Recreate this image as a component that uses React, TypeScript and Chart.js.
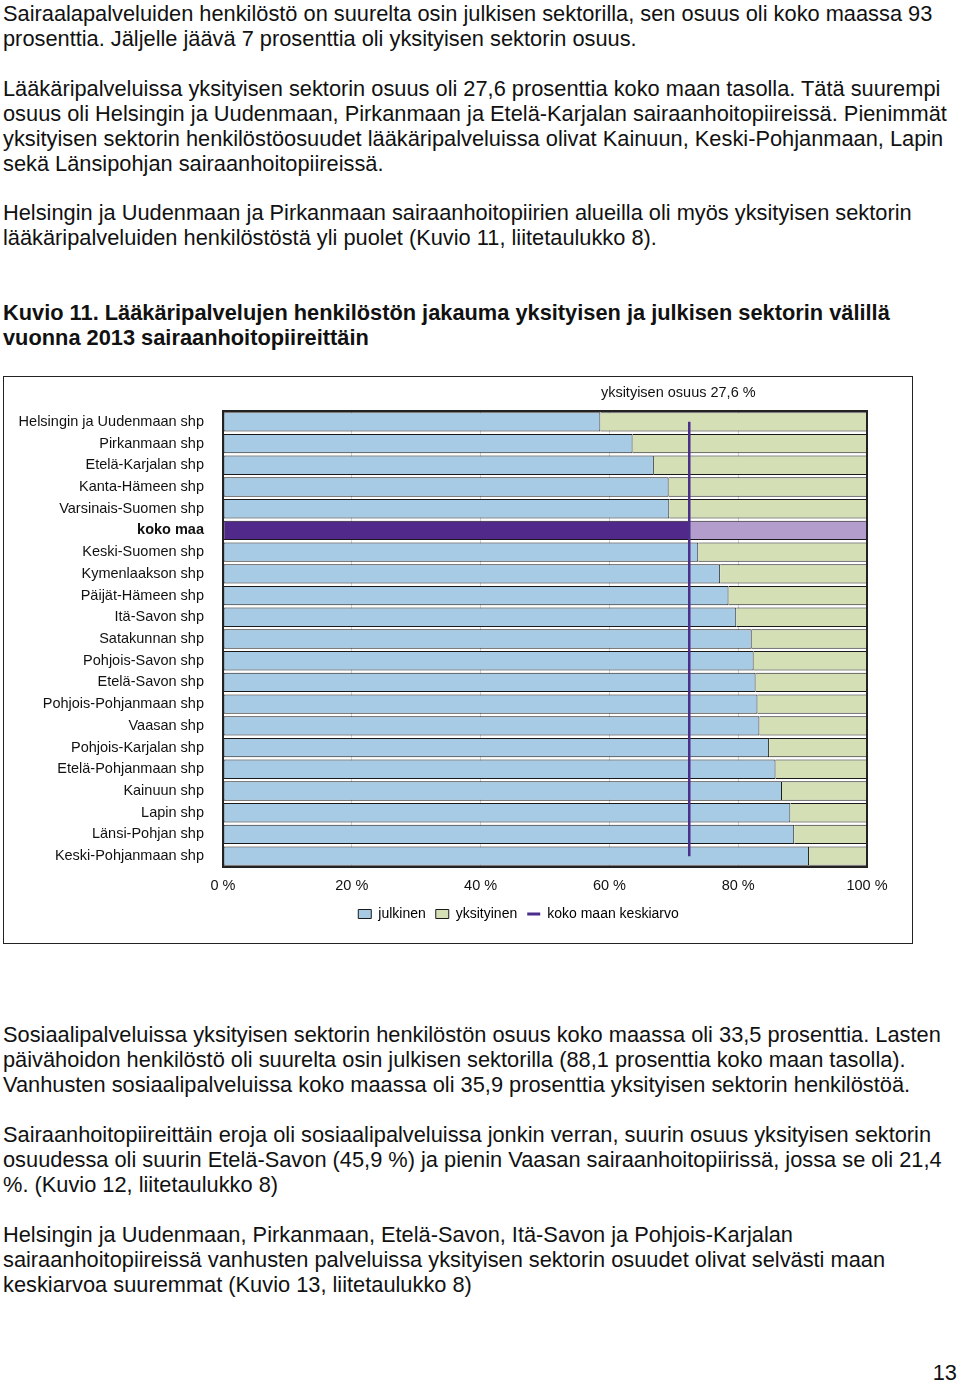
import React, { useEffect, useRef } from "react";
import { Chart, registerables } from "chart.js";

Chart.register(...registerables);

// ---------- data ----------
const categories = [
  "Helsingin ja Uudenmaan shp",
  "Pirkanmaan shp",
  "Etelä-Karjalan shp",
  "Kanta-Hämeen shp",
  "Varsinais-Suomen shp",
  "koko maa",
  "Keski-Suomen shp",
  "Kymenlaakson shp",
  "Päijät-Hämeen shp",
  "Itä-Savon shp",
  "Satakunnan shp",
  "Pohjois-Savon shp",
  "Etelä-Savon shp",
  "Pohjois-Pohjanmaan shp",
  "Vaasan shp",
  "Pohjois-Karjalan shp",
  "Etelä-Pohjanmaan shp",
  "Kainuun shp",
  "Lapin shp",
  "Länsi-Pohjan shp",
  "Keski-Pohjanmaan shp",
];
const julkinen = [58.6, 63.6, 66.9, 69.2, 69.3, 72.4, 73.8, 77.2, 78.5, 79.7, 82.1, 82.4, 82.7, 83.0, 83.3, 84.8, 85.8, 86.8, 88.1, 88.7, 91.0];
const yksityinen = [41.4, 36.4, 33.1, 30.8, 30.7, 27.6, 26.2, 22.8, 21.5, 20.3, 17.9, 17.6, 17.3, 17.0, 16.7, 15.2, 14.2, 13.2, 11.9, 11.3, 9.0];
const kokoMaanKeskiarvo = 72.4;
const annotationText = "yksityisen osuus 27,6 %";
const xTickValues = [0, 20, 40, 60, 80, 100];
const highlightLabel = "koko maa";
const legendLabels = ["julkinen", "yksityinen", "koko maan keskiarvo"];

// ---------- page text ----------
const para1 = [
  "Sairaalapalveluiden henkilöstö on suurelta osin julkisen sektorilla, sen osuus oli koko maassa 93",
  "prosenttia. Jäljelle jäävä 7 prosenttia oli yksityisen sektorin osuus.",
];
const para2 = [
  "Lääkäripalveluissa yksityisen sektorin osuus oli 27,6 prosenttia koko maan tasolla. Tätä suurempi",
  "osuus oli Helsingin ja Uudenmaan, Pirkanmaan ja Etelä-Karjalan sairaanhoitopiireissä. Pienimmät",
  "yksityisen sektorin henkilöstöosuudet lääkäripalveluissa olivat Kainuun, Keski-Pohjanmaan, Lapin",
  "sekä Länsipohjan sairaanhoitopiireissä.",
];
const para3 = [
  "Helsingin ja Uudenmaan ja Pirkanmaan sairaanhoitopiirien alueilla oli myös yksityisen sektorin",
  "lääkäripalveluiden henkilöstöstä yli puolet (Kuvio 11, liitetaulukko 8).",
];
const figTitle = [
  "Kuvio 11. Lääkäripalvelujen henkilöstön jakauma yksityisen ja julkisen sektorin välillä",
  "vuonna 2013 sairaanhoitopiireittäin",
];
const para4 = [
  "Sosiaalipalveluissa yksityisen sektorin henkilöstön osuus koko maassa oli 33,5 prosenttia. Lasten",
  "päivähoidon henkilöstö oli suurelta osin julkisen sektorilla (88,1 prosenttia koko maan tasolla).",
  "Vanhusten sosiaalipalveluissa koko maassa oli 35,9 prosenttia yksityisen sektorin henkilöstöä.",
];
const para5 = [
  "Sairaanhoitopiireittäin eroja oli sosiaalipalveluissa jonkin verran, suurin osuus yksityisen sektorin",
  "osuudessa oli suurin Etelä-Savon (45,9 %) ja pienin Vaasan sairaanhoitopiirissä, jossa se oli 21,4",
  "%. (Kuvio 12, liitetaulukko 8)",
];
const para6 = [
  "Helsingin ja Uudenmaan, Pirkanmaan, Etelä-Savon, Itä-Savon ja Pohjois-Karjalan",
  "sairaanhoitopiireissä vanhusten palveluissa yksityisen sektorin osuudet olivat selvästi maan",
  "keskiarvoa suuremmat (Kuvio 13, liitetaulukko 8)",
];
const pageNumber = "13";

const FONT = '"Liberation Sans", Arial, Helvetica, sans-serif';
const TEXT_SIZE = 21.8;
const BLUE = "#a7cbe5";
const GREEN = "#d5dfb5";
const DARK_PURPLE = "#50298a";
const LIGHT_PURPLE = "#b29dcd";
const LINE_PURPLE = "#4b2d8a";
const EDGE = "#1a1a1a";

const hiIdx = categories.indexOf(highlightLabel);

function Block({ top, lines, bold }: { top: number; lines: string[]; bold?: boolean }) {
  return (
    <>
      {lines.map((t, i) => (
        <div
          key={i}
          style={{
            position: "absolute",
            left: 3,
            top: top + i * 25,
            fontSize: TEXT_SIZE,
            lineHeight: "25px",
            whiteSpace: "nowrap",
            fontWeight: bold ? "bold" : "normal",
          }}
        >
          {t}
        </div>
      ))}
    </>
  );
}

const framePlugin = {
  id: "frameAndNote",
  afterLayout(chart: any) {
    // centre the legend row under the plot like the original figure
    if (chart.legend) chart.legend.left += 166;
  },
  afterDatasetsDraw(chart: any) {
    const { ctx, chartArea } = chart;
    ctx.save();
    ctx.strokeStyle = "#222";
    ctx.lineWidth = 2;
    ctx.strokeRect(chartArea.left, chartArea.top, chartArea.right - chartArea.left, chartArea.bottom - chartArea.top);
    ctx.restore();
  },
  afterDraw(chart: any) {
    const { ctx, chartArea, scales } = chart;
    ctx.save();
    ctx.font = `14.5px ${FONT}`;
    ctx.fillStyle = "#111";
    ctx.textAlign = "center";
    ctx.textBaseline = "middle";
    ctx.fillText(annotationText, scales.x.getPixelForValue(kokoMaanKeskiarvo) - 11, chartArea.top - 18);
    ctx.restore();
  },
};

export default function App() {
  const ref = useRef<HTMLCanvasElement>(null);

  useEffect(() => {
    Chart.defaults.font.family = FONT;
    const canvas = ref.current!;
    const chart = new Chart(canvas, {
      type: "bar",
      data: {
        labels: categories,
        datasets: [
          {
            label: legendLabels[0],
            data: julkinen,
            backgroundColor: categories.map((_, i) => (i === hiIdx ? DARK_PURPLE : BLUE)),
            borderColor: EDGE,
            borderWidth: 1,
            borderSkipped: false,
            stack: "a",
            barPercentage: 0.89,
            categoryPercentage: 1,
          } as any,
          {
            label: legendLabels[1],
            data: yksityinen,
            backgroundColor: categories.map((_, i) => (i === hiIdx ? LIGHT_PURPLE : GREEN)),
            borderColor: EDGE,
            borderWidth: 1,
            stack: "a",
            barPercentage: 0.89,
            categoryPercentage: 1,
          } as any,
          {
            type: "line",
            label: legendLabels[2],
            indexAxis: "y",
            data: categories.map(() => kokoMaanKeskiarvo),
            borderColor: LINE_PURPLE,
            backgroundColor: LINE_PURPLE,
            borderWidth: 2.5,
            pointRadius: 0,
            stack: "avg",
            order: -1,
          } as any,
        ],
      },
      options: {
        indexAxis: "y",
        responsive: false,
        animation: false,
        devicePixelRatio: 1,
        events: [],
        layout: { padding: { top: 34, right: 45, bottom: 12, left: 0 } },
        scales: {
          x: {
            stacked: true,
            min: 0,
            max: 100,
            afterBuildTicks: (s: any) => {
              s.ticks = xTickValues.map((v) => ({ value: v }));
            },
            ticks: {
              callback: (v: any) => `${v} %`,
              padding: 10,
              color: "#111",
              font: { size: 14.5 },
              maxRotation: 0,
            },
            grid: { color: "#d2d2d2", drawTicks: false },
            border: { display: false },
            afterFit: (s: any) => {
              s.height = 30;
            },
          },
          y: {
            stacked: true,
            ticks: {
              padding: 19,
              color: "#111",
              autoSkip: false,
              font: (c: any) => ({ size: 14.5, weight: c.index === hiIdx ? "bold" : "normal" }),
            },
            grid: { display: false, drawTicks: false },
            border: { display: false },
            afterFit: (s: any) => {
              s.width = 219;
            },
          },
        } as any,
        plugins: {
          tooltip: { enabled: false },
          legend: {
            position: "bottom",
            labels: {
              usePointStyle: true,
              pointStyleWidth: 13,
              boxHeight: 9,
              padding: 10,
              color: "#111",
              font: { size: 14 },
              generateLabels: () => [
                { text: legendLabels[0], fillStyle: BLUE, strokeStyle: EDGE, lineWidth: 1, pointStyle: "rect", datasetIndex: 0, hidden: false },
                { text: legendLabels[1], fillStyle: GREEN, strokeStyle: EDGE, lineWidth: 1, pointStyle: "rect", datasetIndex: 1, hidden: false },
                { text: legendLabels[2], fillStyle: LINE_PURPLE, strokeStyle: LINE_PURPLE, lineWidth: 3, pointStyle: "line", datasetIndex: 2, hidden: false },
              ],
            },
          } as any,
        },
      },
      plugins: [framePlugin],
    } as any);
    return () => chart.destroy();
  }, []);

  return (
    <div
      style={{
        position: "absolute",
        left: 0,
        top: 0,
        width: 960,
        height: 1383,
        background: "#fff",
        fontFamily: FONT,
        color: "#111",
        overflow: "hidden",
      }}
    >
      <Block top={0.6} lines={para1} />
      <Block top={75.6} lines={para2} />
      <Block top={199.6} lines={para3} />
      <Block top={299.6} lines={figTitle} bold />
      <div
        style={{
          position: "absolute",
          left: 3,
          top: 376,
          width: 908,
          height: 566,
          border: "1px solid #222",
        }}
      >
        <canvas ref={ref} width={908} height={566} style={{ display: "block", width: 908, height: 566 }} />
      </div>
      <Block top={1021.6} lines={para4} />
      <Block top={1121.6} lines={para5} />
      <Block top={1221.6} lines={para6} />
      <div
        style={{
          position: "absolute",
          right: 3,
          top: 1359.6,
          fontSize: TEXT_SIZE,
          lineHeight: "25px",
          whiteSpace: "nowrap",
        }}
      >
        {pageNumber}
      </div>
    </div>
  );
}
